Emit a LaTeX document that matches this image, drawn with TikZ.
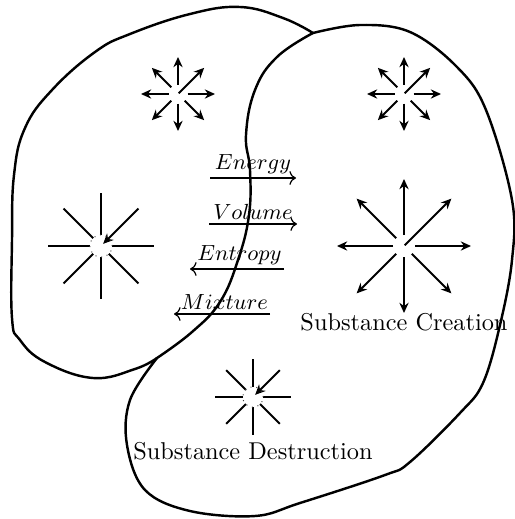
\documentclass[tikz,border=0pt]{standalone}
\usetikzlibrary{arrows.meta,calc}
\tikzset{
  region/.style={line width=1pt, line join=round, line cap=round},
  outray/.style={thick, -{Stealth[length=4.2pt,width=3.8pt]}},
  inray/.style={thick},
  flux/.style={line width=0.5pt, ->},
  sinkring/.style={dotted, black!75, line width=0.4pt},
  fluxlab/.style={above, font=\small, inner sep=1.5pt},
}

\begin{document}
\begin{tikzpicture}[x=0.411pt, y=-0.411pt]
\useasboundingbox (0,0) rectangle (515,519);

% left region, outer edge
\draw[region] plot[smooth, tension=0.7] coordinates {
  (313,33) (283,18) (240,7) (190,14) (130,34) (95,52) (52,90) (25,128)
  (14,175) (12,240) (12,318) (20,340) (45,362) (93,378) (135,369) (157,358)};
% common edge
\draw[region] plot[smooth, tension=0.7] coordinates {
  (157,358) (192,332) (220,302) (238,260) (249,215) (250,170) (246,135)
  (255,90) (277,57) (313,33)};
% right region, outer edge
\draw[region] plot[smooth, tension=0.6] coordinates {
  (313,33) (360,25) (410,32) (457,67) (486,110) (512,200) (512,260)
  (500,325) (483,383) (460,413) (410,462) (385,475) (300,503) (255,516)
  (190,511) (145,490) (127,445) (130,400) (157,358)};

% sources and sinks
\coordinate (srcTL) at (178,94);
\coordinate (srcTR) at (404,94);
\coordinate (srcC) at (404,246);
\coordinate (snkL) at (101,246);
\coordinate (snkB) at (253,397);

\foreach \c in {srcTL,srcTR} {
  \foreach \a in {0,45,90,135,180,225,270}
    \draw[outray] ($(\c)+(\a:9.5)$) -- ($(\c)+(\a:37)$);
  \draw[outray] ($(\c)+(315:1)$) -- ($(\c)+(315:37)$);
}
\foreach \a in {0,45,90,135,180,225,270}
  \draw[outray] ($(srcC)+(\a:11)$) -- ($(srcC)+(\a:67)$);
\draw[outray] ($(srcC)+(315:1)$) -- ($(srcC)+(315:67)$);

\foreach \a in {0,45,90,135,180,225,270}
  \draw[inray] ($(snkL)+(\a:11)$) -- ($(snkL)+(\a:53)$);
\draw[outray] ($(snkL)+(315:53)$) -- ($(snkL)+(315:3)$);
\draw[sinkring] (snkL) circle (4.6pt);

\foreach \a in {0,45,90,135,180,225,270}
  \draw[inray] ($(snkB)+(\a:10)$) -- ($(snkB)+(\a:38)$);
\draw[outray] ($(snkB)+(315:38)$) -- ($(snkB)+(315:3)$);
\draw[sinkring] (snkB) circle (4.2pt);

% fluxes across the common edge
\coordinate (enS) at (210,178);
\coordinate (enT) at (296,178);
\coordinate (voS) at (209,224);
\coordinate (voT) at (297,224);
\coordinate (etS) at (284,269);
\coordinate (etT) at (190,269);
\coordinate (mxS) at (270,314);
\coordinate (mxT) at (174,314);
\draw[flux] (enS) -- node[fluxlab] (enL) {$Energy$} (enT);
\draw[flux] (voS) -- node[fluxlab] (voL) {$Volume$} (voT);
\draw[flux] (etS) -- node[fluxlab, xshift=1pt] (etL) {$Entropy$} (etT);
\draw[flux] (mxS) -- node[fluxlab, xshift=1pt] (mxL) {$Mixture$} (mxT);

\node (crLab) at (404,322) {Substance Creation};
\node (deLab) at (253,451) {Substance Destruction};
\end{tikzpicture}
\end{document}
